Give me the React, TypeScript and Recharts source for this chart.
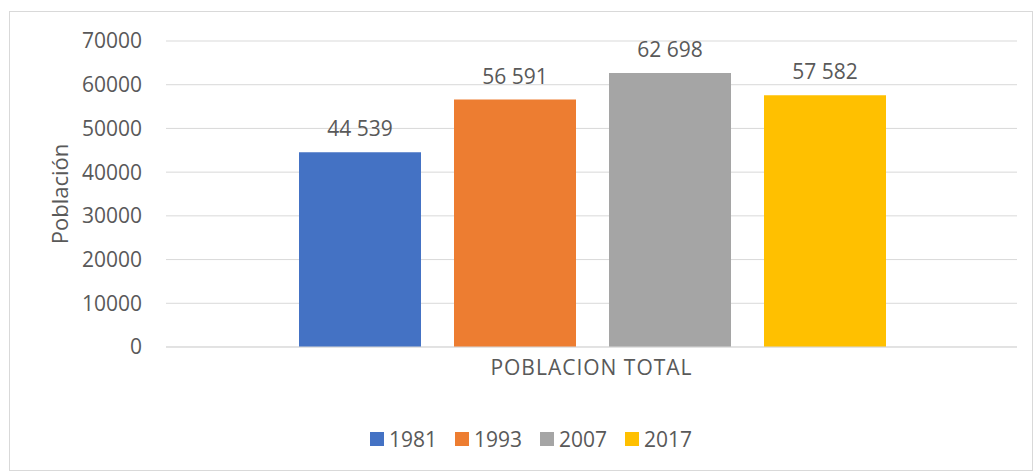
import React from "react";
import { BarChart, Bar, XAxis, YAxis, CartesianGrid, Legend, LabelList } from "recharts";

// reference values
const categories = ["POBLACION TOTAL"];
const years = ["1981", "1993", "2007", "2017"];
const population = [[44539], [56591], [62698], [57582]];
const yTicks = [0, 10000, 20000, 30000, 40000, 50000, 60000, 70000];
const colors = ["#4472C4", "#ED7D31", "#A5A5A5", "#FFC000"];

const FONT = "'Open Sans', 'Noto Sans', sans-serif";
const TEXT = "#595959";
const SIZE = 21;

const data = categories.map((name, i) => {
  const row: Record<string, string | number> = { name };
  years.forEach((y, j) => {
    row[y] = population[j][i];
  });
  return row;
});

const fmt = (v: number) => String(v).replace(/\B(?=(\d{3})+(?!\d))/g, " ");

function LegendContent({ payload }: any) {
  return (
    <div
      style={{
        display: "flex",
        justifyContent: "center",
        paddingLeft: 28,
        fontFamily: FONT,
        fontSize: SIZE,
        color: TEXT,
      }}
    >
      {(payload || []).map((p: any) => (
        <div key={p.value} style={{ display: "flex", alignItems: "center", margin: "0 9px" }}>
          <span style={{ width: 14, height: 14, background: p.color, display: "inline-block", marginRight: 5 }} />
          <span>{p.value}</span>
        </div>
      ))}
    </div>
  );
}

export default function App() {
  return (
    <div style={{ position: "absolute", left: 0, top: 0, width: 1034, height: 471, background: "#fff" }}>
      <div
        style={{
          position: "absolute",
          left: 9,
          top: 11,
          width: 1022,
          height: 458,
          border: "1px solid #d9d9d9",
        }}
      />
      <div style={{ position: "absolute", left: 0, top: 0 }}>
        <BarChart
          width={1034}
          height={471}
          data={data}
          margin={{ top: 41, right: 17, left: 0, bottom: 94 }}
          barCategoryGap={133}
          barGap={33}
        >
          <CartesianGrid vertical={false} stroke="#d9d9d9" />
          <XAxis
            dataKey="name"
            height={30}
            tickLine={false}
            tickSize={0}
            tickMargin={13}
            axisLine={{ stroke: "#d9d9d9" }}
            tick={{ fill: TEXT, fontSize: SIZE, fontFamily: FONT, letterSpacing: 1 }}
          />
          <YAxis
            width={166}
            domain={[0, 70000]}
            ticks={yTicks}
            axisLine={false}
            tickLine={false}
            tickSize={0}
            tickMargin={24}
            tick={{ fill: TEXT, fontSize: SIZE, fontFamily: FONT }}
            label={{
              value: "Población",
              angle: -90,
              position: "insideLeft",
              offset: 60,
              style: { textAnchor: "middle", fill: TEXT, fontSize: 22, fontFamily: FONT },
            }}
          />
          <Legend
            verticalAlign="middle"
            align="center"
            wrapperStyle={{ top: 425, left: 0, width: 1034 }}
            content={<LegendContent />}
          />
          {years.map((y, i) => (
            <Bar key={y} dataKey={y} fill={colors[i]} isAnimationActive={false}>
              <LabelList
                dataKey={y}
                position="top"
                offset={16}
                formatter={(v: any) => fmt(Number(v))}
                style={{ fill: TEXT, fontSize: SIZE, fontFamily: FONT }}
              />
            </Bar>
          ))}
        </BarChart>
      </div>
    </div>
  );
}
